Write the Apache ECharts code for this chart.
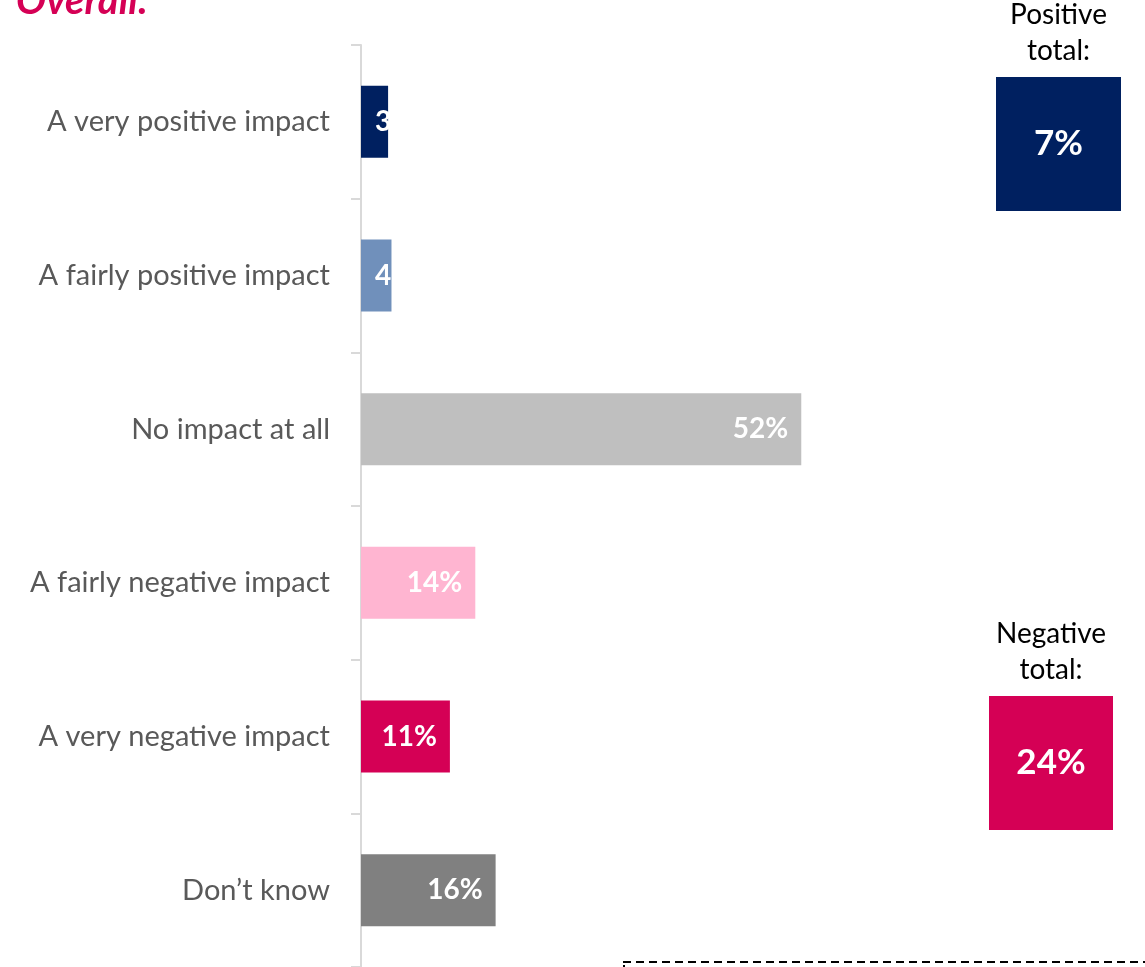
<!DOCTYPE html>
<html lang="en" style="height: 100%">
<head>
  <meta charset="utf-8" />
</head>
<body style="height: 100%; margin: 0">
  <div id="container" style="width: 1145px; height: 967px;"></div>
  <script src="https://cdn.jsdelivr.net/npm/echarts@6/dist/echarts.min.js"></script>
  <script>
    // categories (top to bottom) and their shares in %
    var categories = ['A very positive impact', 'A fairly positive impact', 'No impact at all',
      'A fairly negative impact', 'A very negative impact', 'Don\u2019t know'];
    var values = [3.2, 3.6, 52.0, 13.5, 10.5, 15.9];
    var barColors = ['#002060', '#7090bb', '#bfbfbf', '#ffb5d1', '#d50055', '#808080'];

    // the two summary boxes on the right
    var totalNames = ['Positive\ntotal:', 'Negative\ntotal:'];
    var totalValues = [7, 24];
    var totalColors = ['#002060', '#d50055'];

    var font = 'Lato, "Noto Sans", sans-serif';

    var dom = document.getElementById('container');
    var myChart = echarts.init(dom, null, { renderer: 'canvas' });

    var barData = values.map(function (v, i) {
      var small = v < 8;
      return {
        value: v,
        itemStyle: { color: barColors[i] },
        label: {
          position: small ? 'insideLeft' : 'insideRight',
          distance: small ? 14 : 13
        }
      };
    });

    // summary boxes drawn with graphic elements
    var boxes = [
      { x: 996, y: 77, w: 125, h: 134 },
      { x: 989, y: 696, w: 124, h: 134 }
    ];
    var graphics = [
      {
        type: 'text', left: 16, top: -19,
        style: { text: 'Overall:', fill: '#d50055', font: 'italic bold 40px ' + font }
      },
      {
        type: 'line',
        shape: { x1: 623, y1: 962, x2: 1145, y2: 962 },
        style: { stroke: '#000', lineWidth: 2, lineDash: [8, 5] }
      },
      {
        type: 'line',
        shape: { x1: 624, y1: 965, x2: 624, y2: 967 },
        style: { stroke: '#000', lineWidth: 2 }
      }
    ];
    boxes.forEach(function (b, i) {
      graphics.push({
        type: 'rect',
        shape: { x: b.x, y: b.y, width: b.w, height: b.h },
        style: { fill: totalColors[i] }
      });
      graphics.push({
        type: 'text', x: b.x + b.w / 2, y: b.y + b.h / 2,
        style: {
          text: totalValues[i] + '%', fill: '#fff', font: 'bold 35px ' + font,
          textAlign: 'center', textVerticalAlign: 'middle'
        }
      });
      graphics.push({
        type: 'text', x: b.x + b.w / 2, y: b.y - 8,
        style: {
          text: totalNames[i], fill: '#000', font: '28px ' + font,
          textAlign: 'center', textVerticalAlign: 'bottom', lineHeight: 36
        }
      });
    });

    var option = {
      animation: false,
      backgroundColor: '#fff',
      grid: { left: 361, top: 45, width: 508, height: 926, containLabel: false },
      xAxis: {
        type: 'value', min: 0, max: 60, show: false,
        splitLine: { show: false }
      },
      yAxis: {
        type: 'category',
        inverse: true,
        data: categories,
        axisLine: { lineStyle: { color: '#d9d9d9', width: 2 } },
        axisTick: { show: true, length: 10, lineStyle: { color: '#d9d9d9', width: 2 } },
        axisLabel: { color: '#595959', fontSize: 29, fontFamily: font, margin: 31 }
      },
      series: [
        {
          type: 'bar',
          barWidth: 72,
          data: barData,
          label: {
            show: true,
            color: '#fff',
            fontSize: 28,
            fontWeight: 'bold',
            fontFamily: font,
            formatter: function (p) { return Math.round(p.value) + '%'; }
          }
        }
      ],
      graphic: graphics
    };

    myChart.setOption(option);
    window.addEventListener('resize', myChart.resize);
  </script>
</body>
</html>
